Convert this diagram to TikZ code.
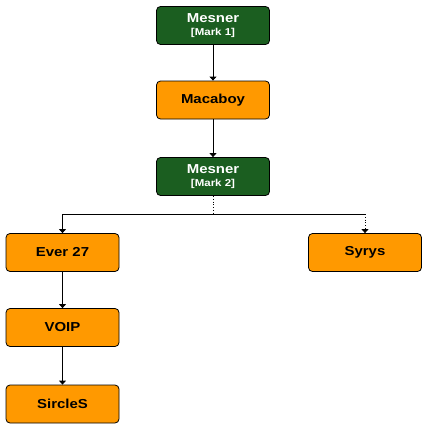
\documentclass[tikz,border=0pt]{standalone}
\usepackage{fontspec}
\setmainfont{Liberation Sans}[FakeStretch=1.15]
\usetikzlibrary{arrows.meta}
\definecolor{dgreen}{HTML}{1B5E20}
\definecolor{orng}{HTML}{FF9900}
\begin{document}
\begin{tikzpicture}[x=1pt,y=-1pt,
  box/.style={draw=black,line width=0.8pt,rounded corners=4pt,minimum width=113pt,minimum height=38pt,inner sep=0pt,align=center,font=\bfseries\fontsize{13}{14}\selectfont},
  gbox/.style={box,fill=dgreen,text=white},
  obox/.style={box,fill=orng,text=black},
  conn/.style={line width=0.8pt,-{Triangle[length=4pt,width=7pt]}}]
\useasboundingbox (0,0) rectangle (427,428);
\node[gbox] (m1) at (213,25.5) {Mesner\\[-1pt]{\fontsize{10}{11}\selectfont [Mark 1]}};
\node[obox] (mac) at (213,100) {Macaboy};
\node[gbox] (m2) at (213,176.5) {Mesner\\[-1pt]{\fontsize{10}{11}\selectfont [Mark 2]}};
\node[obox] (ever) at (62.5,252.5) {Ever 27};
\node[obox] (syr) at (365,252.5) {Syrys};
\node[obox] (voip) at (62.5,327.5) {VOIP};
\node[obox] (sir) at (62.5,404) {SircleS};
\coordinate (j) at (213,214);
\draw[conn] (m1) -- (mac);
\draw[conn] (mac) -- (m2);
\draw[line width=0.8pt,dotted] (m2.south) -- (j);
\draw[conn] (j) -| (ever.north);
\draw[line width=0.8pt] (j) -| (syr.north |- j);
\draw[conn,dotted] (syr.north |- j) -- (syr.north);
\draw[conn] (ever) -- (voip);
\draw[conn] (voip) -- (sir);
\end{tikzpicture}
\end{document}
